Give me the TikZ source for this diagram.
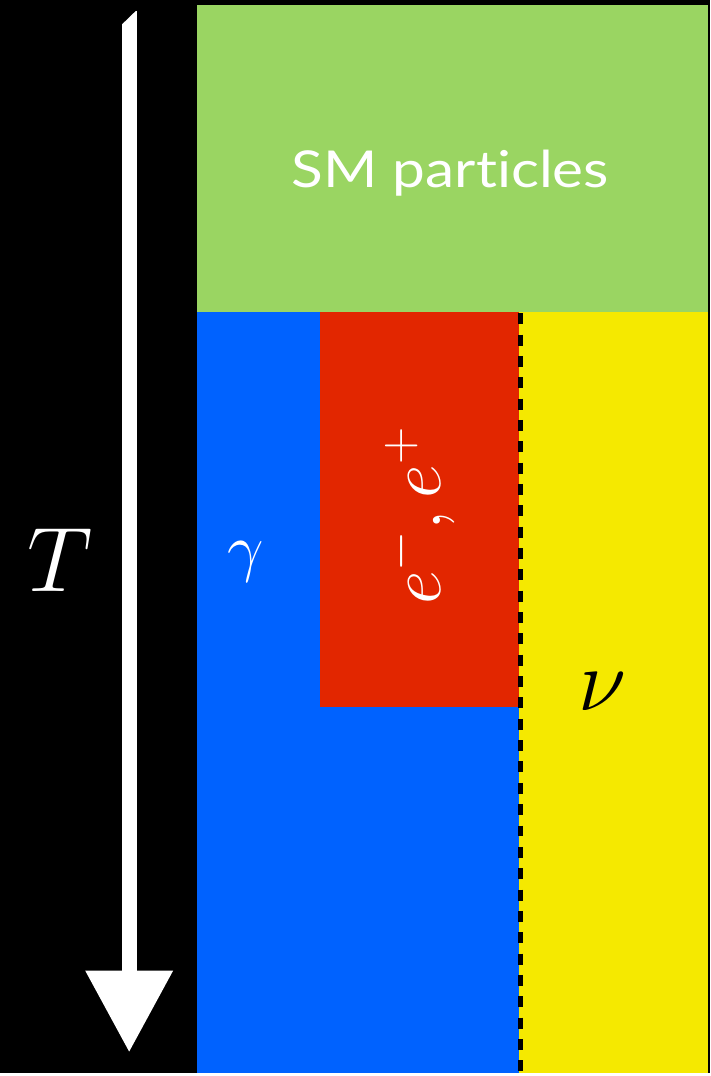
\RequirePackage{fix-cm}
\documentclass[tikz,border=0pt]{standalone}
\usepackage{fontspec}
\newfontfamily\labelfont[FakeStretch=1.15, Ligatures=NoCommon]{Lato}
\usetikzlibrary{arrows.meta}
\definecolor{smgreen}{RGB}{154,213,98}
\definecolor{gammablue}{RGB}{0,98,255}
\definecolor{leptonred}{RGB}{226,38,0}
\definecolor{nuyellow}{RGB}{245,233,0}

\begin{document}
\begin{tikzpicture}[
    x=1pt,
    y=-1pt,
    lab/.style={inner sep=0pt, anchor=base},
    tarrow/.style={white, line width=15pt, -{Triangle[width=84pt,length=82pt]}},
    eqline/.style={black, line width=5.5pt, dash pattern=on 11pt off 10.4pt}
  ]
    \fill[black] (0,0) rectangle (712,1076);
    \fill[smgreen] (197,5) rectangle (710,313);
    \fill[gammablue] (197,313) rectangle (520,1076);
    \fill[leptonred] (321,313) rectangle (520,709);
    \fill[nuyellow] (520,313) rectangle (710,1076);
    \draw[eqline] (522,314) -- (522,1076);
    % temperature axis
    \coordinate (hot) at (129.5,11);
    \coordinate (cold) at (129.5,1055);
    \draw[tarrow] (hot) -- (cold);
    \fill[black] (121,9) -- (121,25.5) -- (138,9) -- cycle;
    \node[lab, white] (temp) at (60,593) {\fontsize{92}{92}\selectfont $T$};
    \node[lab, white] (sm) at (451.5,188) {\labelfont\fontsize{51}{51}\selectfont SM particles};
    \node[lab, white] (photon) at (246,571) {\fontsize{65}{65}\selectfont $\gamma$};
    \node[lab, white, rotate=90] (lepton) at (442,517) {\fontsize{74}{74}\selectfont $e^-,e^+$};
    \node[lab, black] (nu) at (604,712) {\fontsize{88}{88}\selectfont $\nu$};
  \end{tikzpicture}
\end{document}
